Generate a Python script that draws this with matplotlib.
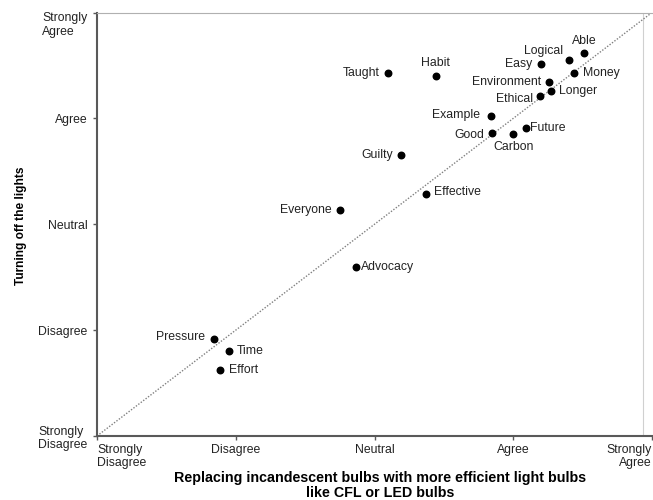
import matplotlib

matplotlib.use("Agg")
import matplotlib.pyplot as plt

plt.rcParams["font.family"] = ["Liberation Sans", "DejaVu Sans"]

# --- data: 1 = Strongly Disagree ... 5 = Strongly Agree ---------------------------
labels = ["Taught", "Habit", "Able", "Logical", "Easy", "Money", "Environment", "Longer",
          "Ethical", "Example", "Good", "Carbon", "Future", "Guilty", "Effective",
          "Everyone", "Advocacy", "Pressure", "Time", "Effort"]
bulbs = [3.10, 3.44, 4.51, 4.40, 4.20, 4.44, 4.26, 4.27,
         4.19, 3.84, 3.85, 4.00, 4.09, 3.19, 3.37,
         2.75, 2.87, 1.84, 1.95, 1.89]
lights = [4.43, 4.40, 4.62, 4.55, 4.51, 4.43, 4.34, 4.26,
          4.21, 4.02, 3.86, 3.85, 3.91, 3.65, 3.29,
          3.13, 2.60, 1.92, 1.80, 1.62]
scale = ["Strongly\nDisagree", "Disagree", "Neutral", "Agree", "Strongly\nAgree"]

# label placement (offset in points, alignment)
place = {
    "Taught": ((-6, 0), "right", "center"),
    "Habit": ((0, 5), "center", "bottom"),
    "Able": ((0, 4), "center", "bottom"),
    "Logical": ((-4, 2), "right", "bottom"),
    "Easy": ((-6, 0), "right", "center"),
    "Money": ((6, 0), "left", "center"),
    "Environment": ((-6, 0), "right", "center"),
    "Longer": ((6, 0), "left", "center"),
    "Ethical": ((-5, -2), "right", "center"),
    "Example": ((-8, 1), "right", "center"),
    "Good": ((-6, -1), "right", "center"),
    "Carbon": ((0, -5), "center", "top"),
    "Future": ((3, 0), "left", "center"),
    "Guilty": ((-6, 0), "right", "center"),
    "Effective": ((6, 1), "left", "center"),
    "Everyone": ((-6, 0), "right", "center"),
    "Advocacy": ((3, 0), "left", "center"),
    "Pressure": ((-6, 1), "right", "center"),
    "Time": ((6, 0), "left", "center"),
    "Effort": ((6, 0), "left", "center"),
}

fig = plt.figure(figsize=(6.53, 5.0), dpi=100)
ax = fig.add_axes([97 / 653, 64 / 500, 555 / 653, 423.5 / 500])

ax.plot([1, 5], [1, 5], linestyle=(0, (1, 1.2)), color="#808080", linewidth=1.0, zorder=1)
ax.scatter(bulbs, lights, s=22, color="black", zorder=3)
for name, x, y in zip(labels, bulbs, lights):
    off, ha, va = place[name]
    ax.annotate(name, (x, y), xytext=off, textcoords="offset points",
                ha=ha, va=va, fontsize=8.8, color="#222222")

ax.set_xlim(1, 5)
ax.set_ylim(1, 5)
ax.set_xticks([1, 2, 3, 4, 5])
ax.set_yticks([1, 2, 3, 4, 5])
ax.set_xticklabels(scale, fontsize=8.8, color="#222222", linespacing=1.12)
ax.set_yticklabels(scale, fontsize=8.8, color="#222222", linespacing=1.2)
ax.tick_params(axis="both", length=3, width=1, color="#595959")
ax.tick_params(axis="x", pad=3)
ax.tick_params(axis="y", pad=4)

xt = ax.get_xticklabels()
xt[0].set_ha("left")
xt[-1].set_ha("right")
for t in xt:
    t.set_va("top")
yt = ax.get_yticklabels()
yt[0].set_multialignment("left")
yt[0].set_y(0.98)
yt[-1].set_multialignment("left")
yt[-1].set_va("top")
yt[-1].set_y(4.95)

for s in ["left", "bottom"]:
    ax.spines[s].set_color("#595959")
    ax.spines[s].set_linewidth(1.5)
ax.spines["top"].set_color("#b0b0b0")
ax.spines["top"].set_linewidth(0.8)
ax.spines["right"].set_visible(False)
ax.axvline(4.937, color="#d0d0d0", linewidth=0.8, zorder=0)

ax.set_ylabel("Turning off the lights", fontsize=8.6, fontweight="bold")
ax.yaxis.set_label_coords((27 - 97) / 555, (436 - 226) / 423.5)
ax.set_xlabel("Replacing incandescent bulbs with more efficient light bulbs\nlike CFL or LED bulbs",
              fontsize=10.3, fontweight="bold", linespacing=1.1)
ax.xaxis.set_label_coords((380 - 97) / 555, -(471 - 436) / 423.5)

fig.savefig("out.png", dpi=100)
